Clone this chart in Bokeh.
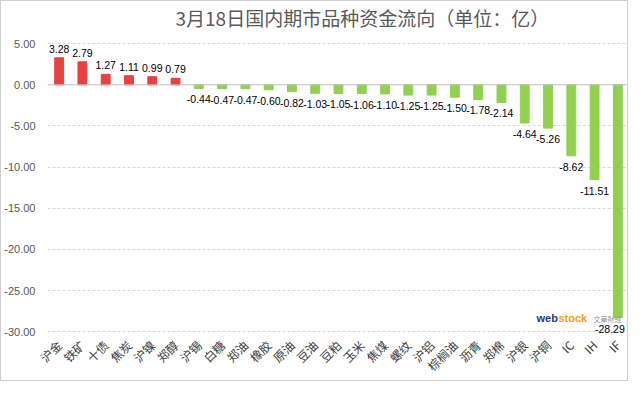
from bokeh.plotting import figure
from bokeh.models import (ColumnDataSource, FixedTicker, Span, Label, Range1d, FactorRange,
                          LabelSet, CustomJSTickFormatter)
from bokeh.core.properties import value
from bokeh.embed import file_html
from bokeh.resources import INLINE
import math

categories = ["沪金", "铁矿", "十债", "焦炭", "沪镍", "郑醇", "沪锡", "白糖", "郑油", "橡胶",
              "原油", "豆油", "豆粕", "玉米", "焦煤", "螺纹", "沪铝", "棕榈油", "沥青", "郑棉",
              "沪银", "沪铜", "IC", "IH", "IF"]
values = [3.28, 2.79, 1.27, 1.11, 0.99, 0.79, -0.44, -0.47, -0.47, -0.60,
          -0.82, -1.03, -1.05, -1.06, -1.10, -1.25, -1.25, -1.50, -1.78, -2.14,
          -4.64, -5.26, -8.62, -11.51, -28.29]
y_ticks = [5, 0, -5, -10, -15, -20, -25, -30]
title_text = "3月18日国内期市品种资金流向（单位：亿）"

colors = ["#E8413F" if v >= 0 else "#92D050" for v in values]
src = ColumnDataSource(dict(cat=categories, val=values, color=colors))
pos_src = ColumnDataSource(dict(cat=[c for c, v in zip(categories, values) if v >= 0],
                                val=[v for v in values if v >= 0],
                                lab=["%.2f" % v for v in values if v >= 0]))
neg_cats = [c for c, v in zip(categories, values) if v < 0]
neg_src = ColumnDataSource(dict(cat=neg_cats,
                                val=[v for v in values if v < 0],
                                lab=["%.2f" % v for v in values if v < 0],
                                dx=[-8 if c == categories[-1] else 0 for c in neg_cats]))

p = figure(width=628, height=381, output_backend="svg", toolbar_location=None,
           x_range=FactorRange(factors=categories, range_padding=0),
           y_range=Range1d(-30.7, 6.6),
           min_border_left=42, min_border_right=0, min_border_bottom=40, min_border_top=20)

p.title.text = title_text
p.title.align = "left"
p.title.text_font = "Noto Sans CJK SC"
p.title.text_font_size = "19px"
p.title.text_font_style = "normal"
p.title.text_color = "#595959"
p.title.offset = 128
p.title.standoff = 0

p.vbar(x="cat", top="val", bottom=0, width=0.38, color="color", source=src)

p.add_layout(LabelSet(x="cat", y="val", text="lab", source=pos_src, text_align="center",
                      text_baseline="bottom", y_offset=5, text_font_size=value("10.5px"),
                      text_font=value("Liberation Sans"), text_color="#000000"))
p.add_layout(LabelSet(x="cat", y="val", text="lab", source=neg_src, text_align="center",
                      text_baseline="top", y_offset=-7, x_offset="dx",
                      text_font_size=value("10.5px"),
                      text_font=value("Liberation Sans"), text_color="#000000"))

p.add_layout(Span(location=0, dimension="width", line_color="#BFBFBF", line_width=1))

p.yaxis.ticker = FixedTicker(ticks=y_ticks)
p.yaxis.formatter = CustomJSTickFormatter(code="return tick.toFixed(2);")
p.yaxis.axis_line_color = None
p.yaxis.major_tick_line_color = None
p.yaxis.minor_tick_line_color = None
p.yaxis.major_label_text_font = "Liberation Sans"
p.yaxis.major_label_text_font_size = "11px"
p.yaxis.major_label_text_color = "#595959"
p.yaxis.major_label_standoff = 6

p.xaxis.axis_line_color = None
p.xaxis.major_tick_line_color = None
p.xaxis.minor_tick_line_color = None
p.xaxis.major_tick_out = 0
p.xaxis.major_tick_in = 0
p.xaxis.major_label_orientation = math.pi / 4
p.xaxis.major_label_text_font = "Noto Sans CJK SC"
p.xaxis.major_label_text_font_size = "12px"
p.xaxis.major_label_text_color = "#404040"
p.xaxis.major_label_standoff = 5

p.xgrid.grid_line_color = None
p.ygrid.grid_line_color = "#D9D9D9"
p.ygrid.grid_line_dash = "3 2"
p.ygrid.ticker = FixedTicker(ticks=[t for t in y_ticks if t != 0])

p.outline_line_color = None
p.border_fill_color = "white"
p.styles = {"border": "1px solid #D0D0D0", "box-sizing": "border-box"}

# watermark logo (text)
p.add_layout(Label(x=489, y=14, x_units="screen", y_units="screen", text="web",
                   text_font="Liberation Sans", text_font_style="bold", text_font_size="11px",
                   text_color="#1F3A7A"))
p.add_layout(Label(x=511, y=14, x_units="screen", y_units="screen", text="stock",
                   text_font="Liberation Sans", text_font_style="bold", text_font_size="11px",
                   text_color="#F0A020"))
p.add_layout(Label(x=546, y=14, x_units="screen", y_units="screen", text="文華財經",
                   text_font="Noto Sans CJK SC", text_font_size="7px",
                   text_color="#999999"))

open("out.html", "w").write(file_html(p, INLINE))
